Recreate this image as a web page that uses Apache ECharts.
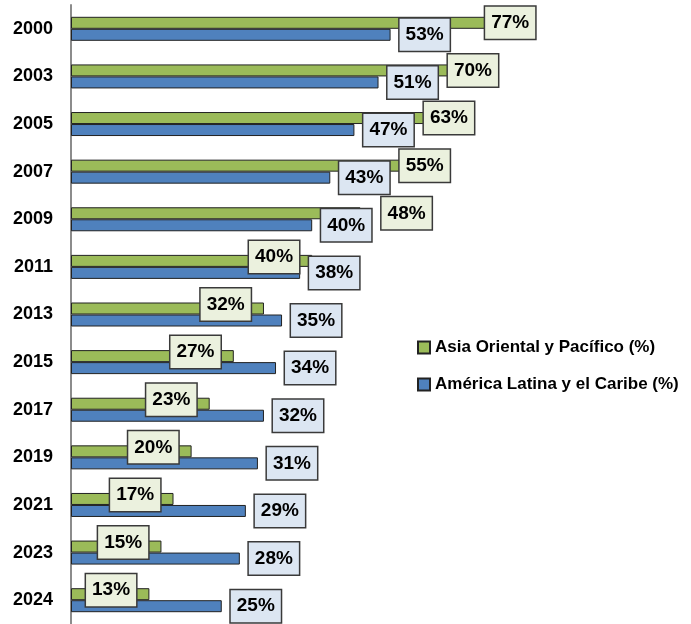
<!DOCTYPE html>
<html>
<head>
    <meta charset="utf-8">
    <title>Asia Oriental y América Latina</title>
    <script src="https://cdn.jsdelivr.net/npm/echarts@6/dist/echarts.min.js"></script>
    <style>
        html, body { margin: 0; padding: 0; background: #fff; }
    </style>
</head>
<body>
    <div id="main" style="width: 691px;height:624px;"></div>
    <script>
        // datos
        var years = ['2000', '2003', '2005', '2007', '2009', '2011', '2013', '2015', '2017', '2019', '2021', '2023', '2024'];
        var asia = [77, 70, 63, 55, 48, 40, 32, 27, 23, 20, 17, 15, 13];
        var latam = [53, 51, 47, 43, 40, 38, 35, 34, 32, 31, 29, 28, 25];

        var FONT = "'Liberation Sans Narrow', 'Arial Narrow', 'Liberation Sans', Arial, sans-serif";

        var boxLabel = function (bg) {
            return {
                show: true,
                formatter: '{c}%',
                color: '#000',
                fontFamily: FONT,
                fontWeight: 'bold',
                fontSize: 19,
                lineHeight: 21,
                backgroundColor: bg,
                borderColor: '#3a3a3a',
                borderWidth: 1.5,
                padding: [6, 6, 5, 6]
            };
        };

        // etiquetas verdes: junto al final de la barra, sin tapar la etiqueta azul
        var asiaData = asia.map(function (v, i) {
            var b = latam[i];
            var left, dy;
            if (v >= b + 5) {
                left = Math.max(v - 8.3, b + 11.5);
                dy = 0;
            } else {
                left = Math.max(v - 10.5, 2);
                dy = -4;
            }
            return {
                value: v,
                label: {
                    position: [(left / v * 100).toFixed(1) + '%', '50%'],
                    align: 'left',
                    verticalAlign: 'middle',
                    offset: [0, dy]
                }
            };
        });

        var myChart = echarts.init(document.getElementById('main'));

        var option = {
            animation: false,
            legend: {
                orient: 'vertical',
                left: 412,
                top: 334,
                itemWidth: 12,
                itemHeight: 12,
                itemGap: 20,
                icon: 'rect',
                textStyle: {
                    fontFamily: FONT,
                    fontWeight: 'bold',
                    fontSize: 17,
                    color: '#000'
                },
                data: ['Asia Oriental y Pacífico (%)', 'América Latina y el Caribe (%)']
            },
            grid: {
                left: 71,
                top: 5,
                width: 603,
                height: 623
            },
            xAxis: {
                type: 'value',
                min: 0,
                max: 100,
                show: false,
                splitLine: { show: false }
            },
            yAxis: {
                type: 'category',
                inverse: true,
                data: years,
                axisLine: { lineStyle: { color: '#8c8c8c', width: 2 } },
                axisTick: { show: false },
                axisLabel: {
                    margin: 18,
                    color: '#000',
                    fontFamily: FONT,
                    fontWeight: 'bold',
                    fontSize: 18
                }
            },
            series: [{
                name: 'Asia Oriental y Pacífico (%)',
                type: 'bar',
                barWidth: 12,
                barGap: '0%',
                itemStyle: { color: '#9bbb59', borderColor: '#222', borderWidth: 1 },
                label: boxLabel('#ebf1de'),
                data: asiaData,
                z: 2
            }, {
                name: 'América Latina y el Caribe (%)',
                type: 'bar',
                barWidth: 12,
                barGap: '0%',
                itemStyle: { color: '#4f81bd', borderColor: '#222', borderWidth: 1 },
                label: Object.assign(boxLabel('#dce6f2'), { position: 'right', distance: 9 }),
                data: latam,
                z: 2
            }]
        };

        myChart.setOption(option);
    </script>
</body>
</html>
